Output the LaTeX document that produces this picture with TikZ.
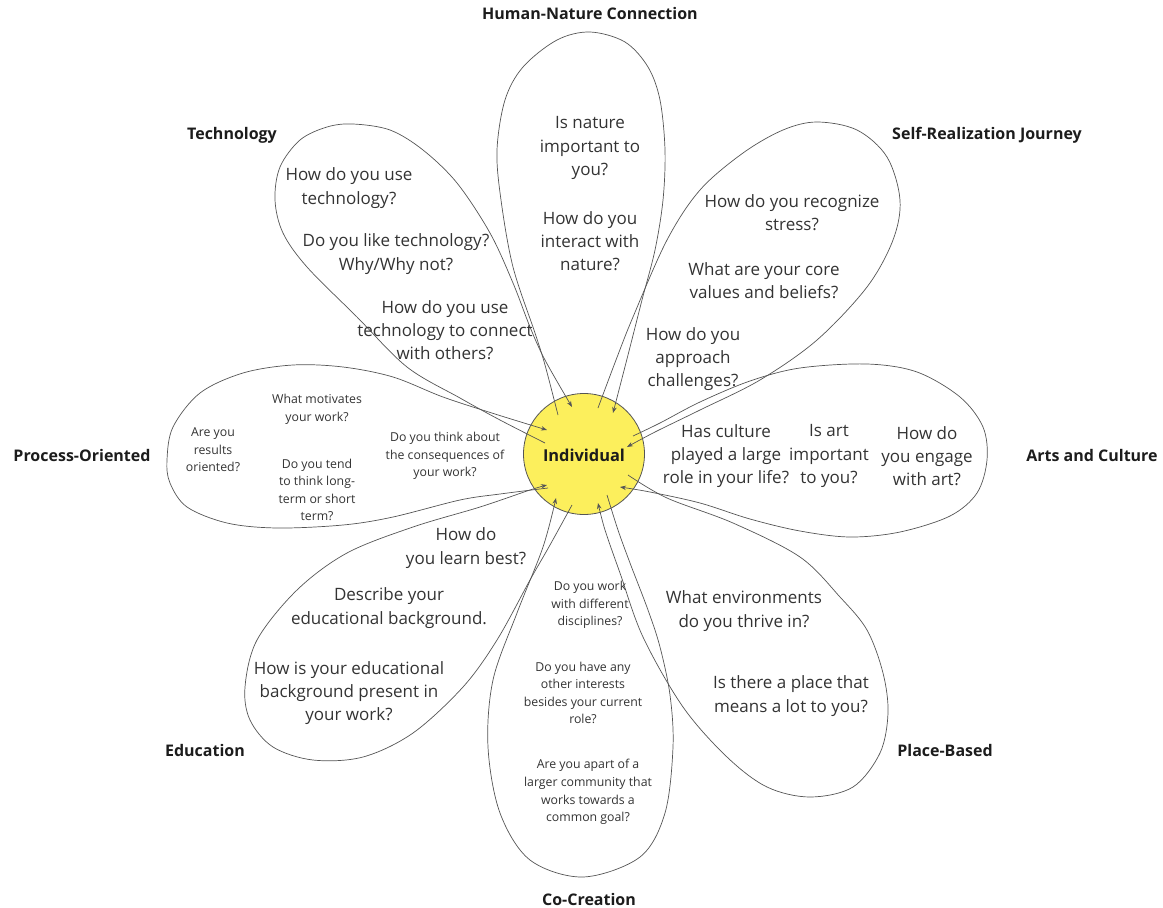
\documentclass[tikz,border=0pt]{standalone}
\usepackage{fontspec}
\setmainfont{Open Sans}
\usetikzlibrary{arrows.meta}
\definecolor{qcol}{HTML}{333333}
\definecolor{labcol}{HTML}{1C1C1C}
\definecolor{linecol}{HTML}{555555}
\definecolor{sun}{HTML}{FCEF5C}
\begin{document}
\begin{tikzpicture}[x=1pt,y=-1pt,
  q/.style={font=\fontsize{17}{23.3}\selectfont, text=qcol, align=center, inner sep=0pt},
  qs/.style={font=\fontsize{12.3}{17.6}\selectfont, text=qcol, align=center, inner sep=0pt},
  lab/.style={font=\fontsize{16}{19}\selectfont\bfseries, text=labcol, inner sep=0pt},
  petal/.style={draw=linecol, line width=0.7pt, -{Stealth[length=6pt,width=4.5pt]}},
  pl/.style={smooth, tension=0.55}]
\useasboundingbox (0,0) rectangle (1163,908);
\node[circle, draw=linecol, fill=sun, minimum size=121pt, inner sep=0pt, line width=0.8pt] (ind) at (584,454) {};
% Human-Nature Connection
\draw[petal] plot[pl] coordinates {(558,415) (545,365) (535,333) (513,267) (501,200) (497,150) (505,100) (523,67) (557,40) (590,32) (625,42) (648,67) (660,100) (665,150) (663,200) (655,250) (642,300) (628,355) (613,413)};
% Self-Realization Journey
\draw[petal] plot[pl] coordinates {(598,408) (616,360) (633,317) (667,240) (700,190) (743,153) (783,130) (817,122) (857,130) (887,157) (900,200) (893,240) (867,287) (817,340) (760,380) (700,410) (655,432) (627,447)};
% Arts and Culture
\draw[petal] plot[pl] coordinates {(633,436) (660,423) (700,402) (750,381) (800,368) (867,364) (917,372) (960,397) (983,427) (987,460) (977,493) (950,516) (900,532) (850,537) (800,531) (750,519) (700,503) (650,492) (620,487)};
% Place-Based
\draw[petal] plot[pl] coordinates {(628,475) (667,498) (733,523) (800,557) (840,597) (867,630) (883,673) (888,713) (880,753) (853,787) (810,797) (767,787) (727,757) (683,707) (643,637) (620,573) (605,530) (598,503)};
% Co-Creation
\draw[petal] plot[pl] coordinates {(607,495) (618,530) (630,563) (648,610) (660,647) (670,695) (673,747) (665,813) (640,857) (583,877) (530,860) (500,813) (488,747) (493,680) (517,613) (543,547) (556,498)};
% Education
\draw[petal] plot[pl] coordinates {(572,505) (550,545) (530,580) (497,640) (463,687) (413,733) (363,757) (313,760) (273,747) (250,720) (245,687) (257,640) (297,590) (347,553) (413,527) (480,507) (530,490) (547,485)};
% Process-Oriented
\draw[petal] plot[pl] coordinates {(548,488) (500,494) (460,500) (393,517) (343,525) (277,528) (227,523) (187,507) (170,483) (167,460) (173,427) (200,393) (243,373) (293,365) (343,367) (393,377) (443,397) (495,414) (547,430)};
% Technology
\draw[petal] plot[pl] coordinates {(545,443) (500,420) (460,398) (407,367) (357,317) (307,267) (283,233) (275,200) (280,167) (300,140) (327,127) (353,124) (390,130) (423,150) (457,183) (490,233) (513,283) (530,327) (545,360) (572,407)};
\node[lab, font=\fontsize{16.4}{20}\selectfont\bfseries] (indl) at (584,455) {Individual};
% labels
\node[lab] (lhn) at (590,13) {Human-Nature Connection};
\node[lab] (lte) at (232,135) {Technology};
\node[lab] (lsr) at (987,135) {Self-Realization Journey};
\node[lab] (lpo) at (82,455) {Process-Oriented};
\node[lab] (lac) at (1092,455) {Arts and Culture};
\node[lab] (led) at (205,750) {Education};
\node[lab] (lpb) at (945,750) {Place-Based};
\node[lab] (lcc) at (589,899) {Co-Creation};
% Human-Nature questions
\node[q] (hn1) at (590,148) {Is nature\\important to\\you?};
\node[q] (hn2) at (590,241) {How do you\\interact with\\nature?};
% Technology questions
\node[q] (te1) at (349,188) {How do you use\\technology?};
\node[q] (te2) at (396,254) {Do you like technology?\\Why/Why not?};
\node[q] (te3) at (445,330) {How do you use\\technology to connect\\with others?};
% Self-Realization questions
\node[q] (sr1) at (792,213) {How do you recognize\\stress?};
\node[q] (sr2) at (764,281) {What are your core\\values and beliefs?};
\node[q] (sr3) at (693,359) {How do you\\approach\\challenges?};
% Arts questions
\node[q] (ac1) at (726,456) {Has culture\\played a large\\role in your life?};
\node[q] (ac2) at (829,456) {Is art\\important\\to you?};
\node[q] (ac3) at (927,456) {How do\\you engage\\with art?};
% Place questions
\node[q] (pb1) at (744,611) {What environments\\do you thrive in?};
\node[q] (pb2) at (791,696) {Is there a place that\\means a lot to you?};
% Co-Creation questions
\node[qs] (cc1) at (590,605) {Do you work\\with different\\disciplines?};
\node[qs] (cc2) at (583,693) {Do you have any\\other interests\\besides your current\\role?};
\node[qs] (cc3) at (588,792) {Are you apart of a\\larger community that\\works towards a\\common goal?};
% Education questions
\node[q] (ed1) at (466,548) {How do\\you learn best?};
\node[q] (ed2) at (389,608) {Describe your\\educational background.};
\node[q] (ed3) at (349,693) {How is your educational\\background present in\\your work?};
% Process questions
\node[qs] (po1) at (213,450) {Are you\\results\\oriented?};
\node[qs] (po2) at (317,409) {What motivates\\your work?};
\node[qs] (po3) at (317,490) {Do you tend\\to think long-\\term or short\\term?};
\node[qs] (po4) at (445,456) {Do you think about\\the consequences of\\your work?};
\end{tikzpicture}
\end{document}
